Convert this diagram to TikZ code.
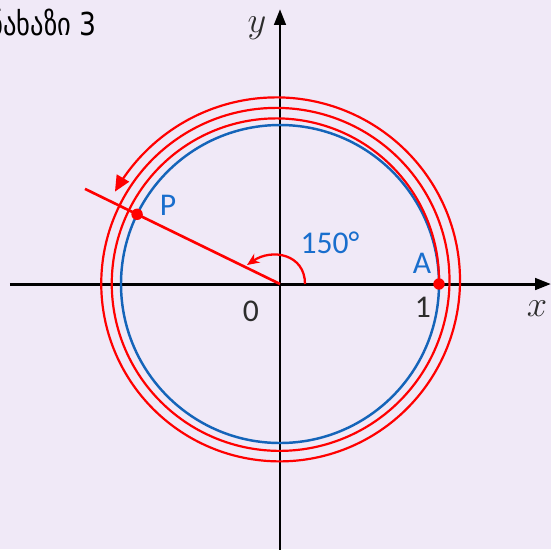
\documentclass[tikz,border=0pt]{standalone}
\usepackage{fontspec}
\setmainfont{Carlito}
\newfontfamily\geofont{DejaVu Sans}
\usetikzlibrary{arrows.meta}
\definecolor{bgcol}{RGB}{240,233,247}
\definecolor{circblue}{RGB}{20,100,185}
\definecolor{lblblue}{RGB}{25,110,205}
\definecolor{numgray}{RGB}{45,45,45}
\tikzset{
  axisline/.style={line width=1.7pt, -{Triangle[length=9pt,width=6.5pt]}},
  lbl/.style={font=\fontsize{18}{20}\selectfont, text=lblblue, inner sep=0pt},
  numlbl/.style={font=\fontsize{18}{20}\selectfont, text=numgray, inner sep=0pt},
  varlbl/.style={font=\fontsize{20}{22}\selectfont, text=numgray, inner sep=0pt},
  redline/.style={red, line width=1.25pt},
  reddot/.style={circle, fill=red, inner sep=0pt, minimum size=6.5pt}
}
\begin{document}
\begin{tikzpicture}[x=0.02cm, y=0.02cm]
  % background and frame size
  \fill[bgcol] (-280,-265) rectangle (271,284);
  \useasboundingbox (-280,-265) rectangle (271,284);
  \node[font=\geofont\fontsize{18}{20}\selectfont, anchor=east, inner sep=0pt] (title) at (-183,262) {\scalebox{0.84}[1]{ნახაზი 3}};

  % axes
  \coordinate (O) at (0,0);
  \coordinate (xs) at (-270,0);
  \coordinate (xe) at (271,0);
  \coordinate (ys) at (0,-266);
  \coordinate (ye) at (0,275);
  \draw[axisline] (xs) -- (xe);
  \draw[axisline] (ys) -- (ye);

  % unit circle
  \draw[circblue, line width=1.4pt] (O) circle (159);

  % turns around the circle
  \draw[redline, shift={(-2,2)}, -{Triangle[length=9pt,width=8pt]}]
    plot[domain=0:871, samples=300, smooth]
    ({(161+10.5*\x/360)*cos(\x)}, {(161+10.5*\x/360)*sin(\x)});

  % ray to P
  \coordinate (R) at (154:217);
  \draw[red, line width=1.5pt] (O) -- (R);
  \draw[red, line width=1.3pt, -{Stealth[length=7pt,width=6pt]}]
    (25,0) .. controls (25,30) and (-8,36) .. (-33,19);

  \node[reddot] (A) at (0:159) {};
  \node[reddot] (P) at (154:159) {};

  % labels
  \node[lbl] (Plbl) at (-112,79) {P};
  \node[lbl] (Albl) at (142,21) {A};
  \node[lbl] (ang) at (50,41) {150°};
  \node[numlbl] (zero) at (-29,-27) {0};
  \node[numlbl] (one) at (143,-23) {1};
  \node[varlbl] (xlbl) at (257,-25) {$x$};
  \node[varlbl] (ylbl) at (-23,256) {$y$};
\end{tikzpicture}
\end{document}
